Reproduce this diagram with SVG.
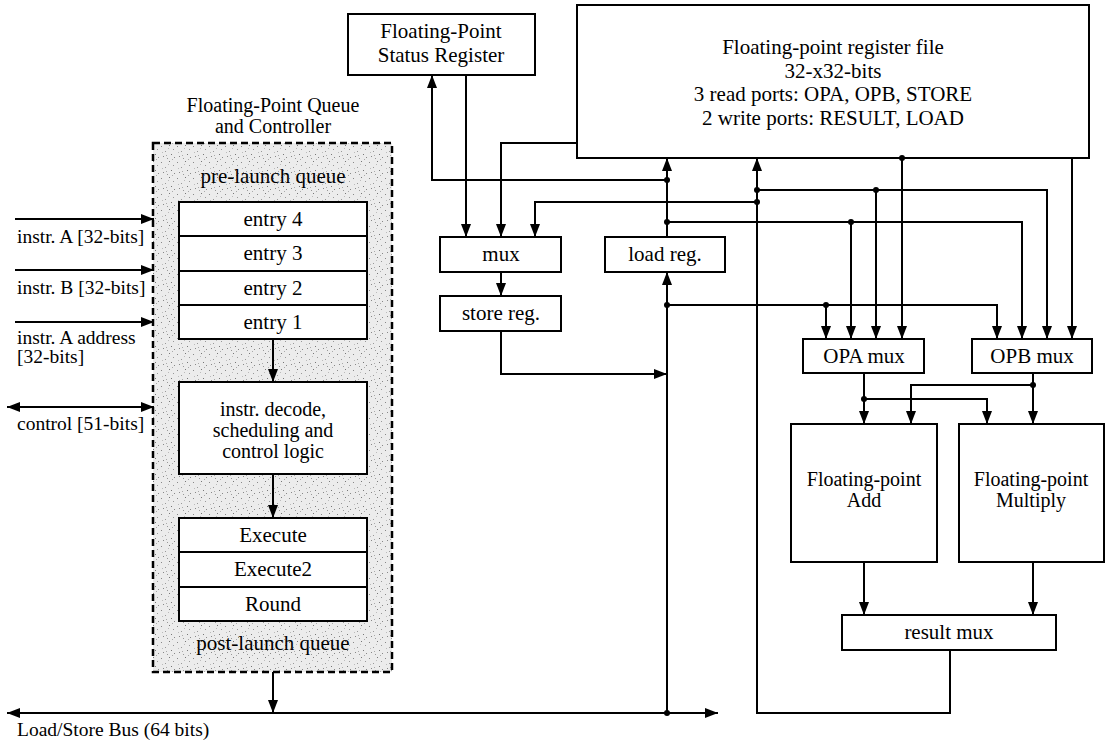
<svg xmlns="http://www.w3.org/2000/svg" width="1110" height="746" viewBox="0 0 1110 746">
<style>
.box{fill:#fff;stroke:#000;stroke-width:2}
.t{font-family:"Liberation Serif","Times New Roman",serif;font-size:21px;fill:#000;text-anchor:middle}
.s{font-size:20px}
.l{font-family:"Liberation Serif","Times New Roman",serif;font-size:19.5px;fill:#000}
.w{fill:none;stroke:#000;stroke-width:2}
.a{fill:none;stroke:#000;stroke-width:2;marker-end:url(#ah)}
.d{fill:#000}
</style>
<defs>
<marker id="ah" markerUnits="userSpaceOnUse" markerWidth="14" markerHeight="10" refX="13" refY="5" orient="auto">
<path d="M0,0 L13,5 L0,10 z" fill="#000"/>
</marker>
<marker id="as" markerUnits="userSpaceOnUse" markerWidth="14" markerHeight="10" refX="1" refY="5" orient="auto">
<path d="M14,0 L1,5 L14,10 z" fill="#000"/>
</marker>
<pattern id="stip" width="16" height="16" patternUnits="userSpaceOnUse">
<rect width="16" height="16" fill="#ececec"/>
<rect x="1" y="2" width="1" height="1" fill="#888"/>
<rect x="5" y="7" width="1" height="1" fill="#999"/>
<rect x="9" y="1" width="1" height="1" fill="#777"/>
<rect x="13" y="5" width="1" height="1" fill="#999"/>
<rect x="3" y="12" width="1" height="1" fill="#888"/>
<rect x="11" y="10" width="1" height="1" fill="#777"/>
<rect x="7" y="14" width="1" height="1" fill="#999"/>
<rect x="14" y="13" width="1" height="1" fill="#888"/>
<rect x="2" y="8" width="1" height="1" fill="#bbb"/>
<rect x="8" y="4" width="1" height="1" fill="#bbb"/>
<rect x="12" y="15" width="1" height="1" fill="#aaa"/>
<rect x="6" y="11" width="1" height="1" fill="#aaa"/>
</pattern>
</defs>
<rect width="1110" height="746" fill="#fff"/>

<g id="queue">
<text class="t s" x="273" y="112">Floating-Point Queue</text>
<text class="t s" x="273" y="133">and Controller</text>
<rect x="153" y="143" width="239" height="529" fill="url(#stip)" stroke="#000" stroke-width="2.5" stroke-dasharray="7,4"/>
<text class="t" x="273" y="183">pre-launch queue</text>
<text class="t" x="273" y="650">post-launch queue</text>
</g>

<g id="prelaunch">
<rect class="box" x="179" y="202" width="188" height="137"/>
<line class="w" x1="179" y1="236" x2="367" y2="236"/>
<line class="w" x1="179" y1="271" x2="367" y2="271"/>
<line class="w" x1="179" y1="305" x2="367" y2="305"/>
<text class="t" x="273" y="226">entry 4</text>
<text class="t" x="273" y="260">entry 3</text>
<text class="t" x="273" y="295">entry 2</text>
<text class="t" x="273" y="329">entry 1</text>
</g>

<g id="decode">
<rect class="box" x="179" y="382" width="188" height="92"/>
<text class="t s" x="273" y="416">instr. decode,</text>
<text class="t s" x="273" y="437">scheduling and</text>
<text class="t s" x="273" y="458">control logic</text>
</g>

<g id="postlaunch">
<rect class="box" x="179" y="518" width="188" height="103"/>
<line class="w" x1="179" y1="552" x2="367" y2="552"/>
<line class="w" x1="179" y1="587" x2="367" y2="587"/>
<text class="t" x="273" y="542">Execute</text>
<text class="t" x="273" y="576">Execute2</text>
<text class="t" x="273" y="611">Round</text>
</g>

<g id="status">
<rect class="box" x="348" y="14" width="187" height="61"/>
<text class="t" x="441" y="38">Floating-Point</text>
<text class="t" x="441" y="62">Status Register</text>
</g>

<g id="regfile">
<rect class="box" x="577" y="5" width="512" height="153"/>
<text class="t" x="833" y="54">Floating-point register file</text>
<text class="t" x="833" y="78">32-x32-bits</text>
<text class="t" x="833" y="101">3 read ports: OPA, OPB, STORE</text>
<text class="t" x="833" y="125">2 write ports: RESULT, LOAD</text>
</g>

<g id="mux">
<rect class="box" x="440" y="237" width="121" height="35"/>
<text class="t" x="501" y="261">mux</text>
</g>
<g id="loadreg">
<rect class="box" x="605" y="237" width="120" height="35"/>
<text class="t" x="665" y="261">load reg.</text>
</g>
<g id="storereg">
<rect class="box" x="440" y="296" width="121" height="35"/>
<text class="t" x="501" y="320">store reg.</text>
</g>
<g id="opamux">
<rect class="box" x="803" y="339" width="121" height="34"/>
<text class="t" x="864" y="363">OPA mux</text>
</g>
<g id="opbmux">
<rect class="box" x="972" y="339" width="120" height="34"/>
<text class="t" x="1032" y="363">OPB mux</text>
</g>
<g id="fpadd">
<rect class="box" x="791" y="424" width="146" height="138"/>
<text class="t s" x="864" y="486">Floating-point</text>
<text class="t s" x="864" y="507">Add</text>
</g>
<g id="fpmul">
<rect class="box" x="959" y="424" width="145" height="138"/>
<text class="t s" x="1031" y="486">Floating-point</text>
<text class="t s" x="1031" y="507">Multiply</text>
</g>
<g id="resultmux">
<rect class="box" x="842" y="615" width="214" height="35"/>
<text class="t" x="949" y="639">result mux</text>
</g>

<g id="labels">
<text class="l" x="17" y="243">instr. A [32-bits]</text>
<text class="l" x="17" y="294">instr. B [32-bits]</text>
<text class="l" x="17" y="344">instr. A address</text>
<text class="l" x="17" y="363">[32-bits]</text>
<text class="l" x="17" y="430">control [51-bits]</text>
<text class="l" x="17" y="736">Load/Store Bus (64 bits)</text>
</g>

<g id="connectors">
<path class="a" d="M15,219 H154"/>
<path class="a" d="M15,270 H154"/>
<path class="a" d="M15,322 H154"/>
<path class="a" d="M7,407 H154" marker-start="url(#as)"/>
<path class="a" d="M273,339 V382"/>
<path class="a" d="M273,474 V518"/>
<path class="a" d="M273,672 V713"/>
<path class="a" d="M7,713 H718" marker-start="url(#as)"/>

<path class="a" d="M667,180 H432 V75"/>
<path class="a" d="M466,75 V237"/>
<path class="a" d="M577,143 H501 V237"/>
<path class="a" d="M757,202 H535 V237"/>
<path class="a" d="M667,237 V158"/>
<path class="a" d="M667,222 H1022 V339"/>
<path class="a" d="M851,222 V339"/>
<path class="a" d="M950,650 V713 H757 V158"/>
<path class="a" d="M757,190 H1047 V339"/>
<path class="a" d="M876,190 V339"/>
<path class="a" d="M902,158 V339"/>
<path class="a" d="M1072,158 V339"/>
<path class="a" d="M667,713 V272"/>
<path class="a" d="M667,305 H997 V339"/>
<path class="a" d="M826,305 V339"/>
<path class="a" d="M501,272 V296"/>
<path class="a" d="M501,331 V374 H667"/>
<path class="a" d="M864,373 V424"/>
<path class="a" d="M864,399 H987 V424"/>
<path class="a" d="M1033,373 V424"/>
<path class="a" d="M1033,385 H911 V424"/>
<path class="a" d="M864,562 V615"/>
<path class="a" d="M1033,562 V615"/>

<circle class="d" cx="667" cy="180" r="3"/>
<circle class="d" cx="667" cy="222" r="3"/>
<circle class="d" cx="851" cy="222" r="3"/>
<circle class="d" cx="757" cy="190" r="3"/>
<circle class="d" cx="757" cy="202" r="3"/>
<circle class="d" cx="876" cy="190" r="3"/>
<circle class="d" cx="902" cy="158" r="3"/>
<circle class="d" cx="667" cy="305" r="3"/>
<circle class="d" cx="826" cy="305" r="3"/>
<circle class="d" cx="667" cy="713" r="3"/>
<circle class="d" cx="864" cy="399" r="3"/>
<circle class="d" cx="1033" cy="385" r="3"/>
</g>
</svg>
